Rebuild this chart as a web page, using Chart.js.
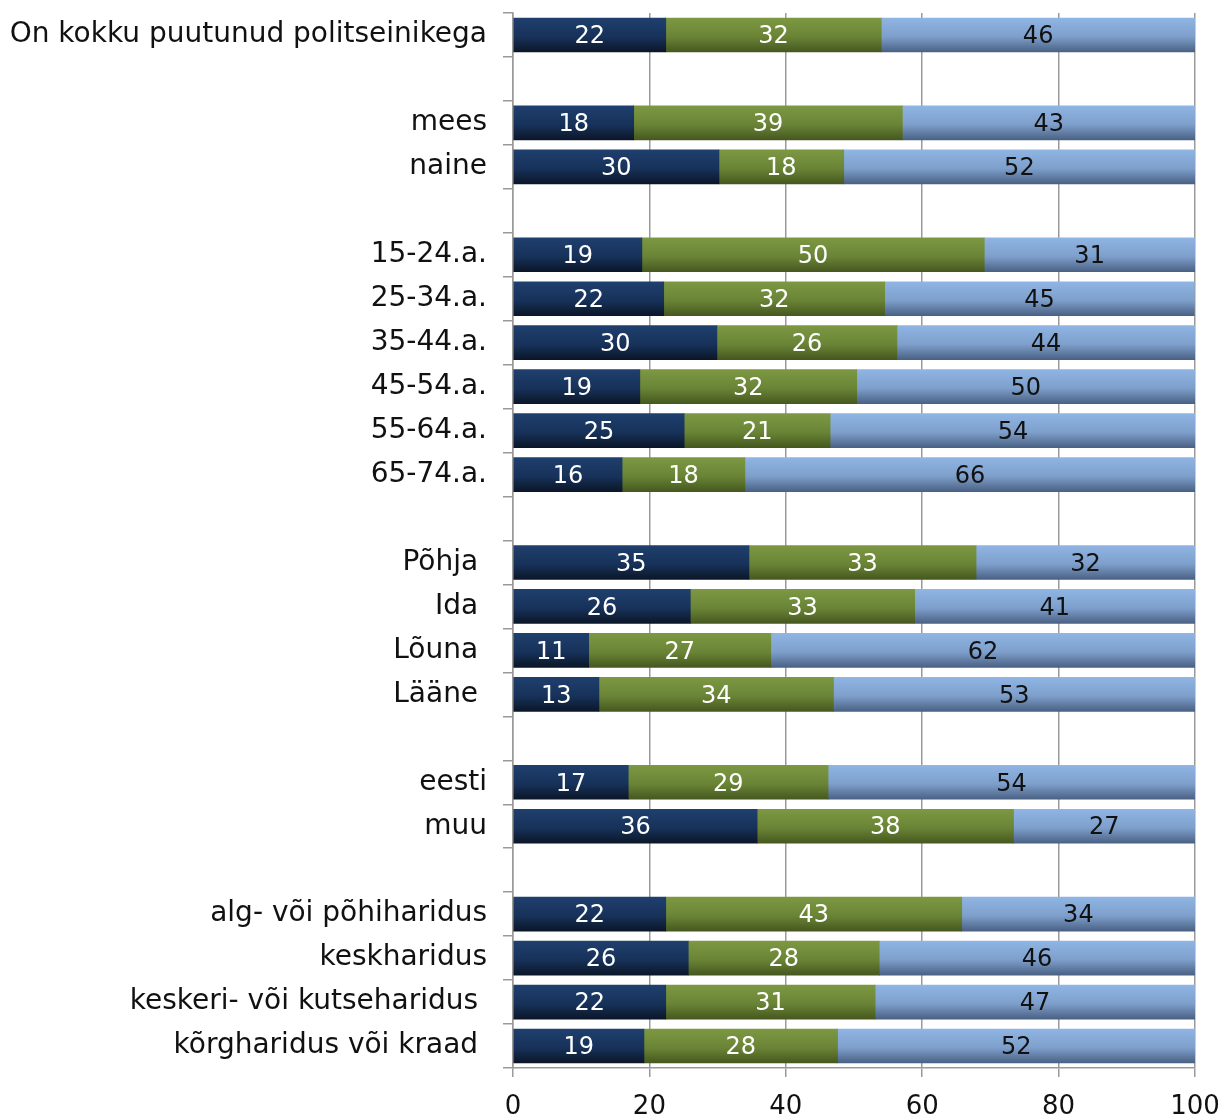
<!DOCTYPE html>
<html>
<head>
<meta charset="utf-8">
<script src="https://cdn.jsdelivr.net/npm/chart.js@4/dist/chart.umd.min.js"></script>
<style>
  html, body { margin: 0; padding: 0; background: #fff; }
  #wrap { width: 1224px; height: 1117px; }
</style>
</head>
<body>
<div id="wrap"><canvas id="canvas1" width="1224" height="1117"></canvas></div>
<script>
// categories (empty strings are the gaps between groups)
var categories = [
  'On kokku puutunud politseinikega', '',
  'mees', 'naine', '',
  '15-24.a.', '25-34.a.', '35-44.a.', '45-54.a.', '55-64.a.', '65-74.a.', '',
  'Põhja ', 'Ida ', 'Lõuna ', 'Lääne ', '',
  'eesti', 'muu', '',
  'alg- või põhiharidus', 'keskharidus', 'keskeri- või kutseharidus ', 'kõrgharidus või kraad '
];
var series1 = [22.4, null, 17.7, 30.2, null, 18.9, 22.1, 29.9, 18.6, 25.1, 16.0, null, 34.6, 26.0, 11.1, 12.6, null, 16.9, 35.8, null, 22.4, 25.7, 22.4, 19.2];
var series2 = [31.6, null, 39.4, 18.3, null, 50.2, 32.4, 26.4, 31.8, 21.4, 18.0, null, 33.3, 32.9, 26.7, 34.4, null, 29.3, 37.6, null, 43.4, 28.0, 30.7, 28.4];
var series3 = [46.0, null, 42.9, 51.5, null, 30.9, 45.4, 43.7, 49.6, 53.6, 66.0, null, 32.1, 41.1, 62.2, 53.0, null, 53.8, 26.6, null, 34.2, 46.3, 46.9, 52.4];
var xTicks = [0, 20, 40, 60, 80, 100];

var FONT = "'DejaVu Sans', Verdana, sans-serif";
var BAR_H = 34;

function barGradient(top, mid, bottom) {
  return function(ctx) {
    var chart = ctx.chart;
    var y = chart.scales && chart.scales.y;
    if (!y || ctx.dataIndex === undefined) return top;
    var cy = y.getPixelForValue(ctx.dataIndex);
    if (!isFinite(cy)) return top;
    var g = chart.ctx.createLinearGradient(0, cy - BAR_H / 2, 0, cy + BAR_H / 2);
    g.addColorStop(0, top);
    g.addColorStop(0.55, mid);
    g.addColorStop(1, bottom);
    return g;
  };
}

var labelPlugin = {
  id: 'barLabels',
  afterDatasetsDraw: function(chart) {
    var ctx = chart.ctx;
    var colors = ['#ffffff', '#ffffff', '#111111'];
    ctx.save();
    ctx.font = '24px ' + FONT;
    ctx.textAlign = 'center';
    ctx.textBaseline = 'middle';
    chart.data.datasets.forEach(function(ds, di) {
      var meta = chart.getDatasetMeta(di);
      meta.data.forEach(function(bar, i) {
        var v = ds.data[i];
        if (v === null || v === undefined) return;
        ctx.fillStyle = colors[di];
        ctx.fillText(Math.round(v), (bar.x + bar.base) / 2, bar.y + 2);
      });
    });
    ctx.restore();
  }
};

new Chart(document.getElementById('canvas1').getContext('2d'), {
  type: 'bar',
  data: {
    labels: categories,
    datasets: [
      { data: series1, backgroundColor: barGradient('#1f3f6d', '#17325a', '#0b1628') },
      { data: series2, backgroundColor: barGradient('#7c9842', '#6a8436', '#46581f') },
      { data: series3, backgroundColor: barGradient('#8fb5e4', '#7e9fcb', '#4a6184') }
    ]
  },
  options: {
    indexAxis: 'y',
    responsive: false,
    animation: false,
    layout: { padding: { top: 13, right: 29, bottom: 0, left: 0 } },
    datasets: { bar: { barThickness: BAR_H, borderWidth: 0 } },
    plugins: { legend: { display: false }, tooltip: { enabled: false } },
    scales: {
      x: {
        stacked: true,
        min: 0, max: 100,
        afterBuildTicks: function(scale) {
          scale.ticks = xTicks.map(function(v) { return { value: v }; });
        },
        afterFit: function(scale) { scale.height = 49; scale.paddingLeft = 0; scale.paddingRight = 0; },
        grid: { color: '#9a9a9a', lineWidth: 1.5, tickLength: 9 },
        border: { display: true, color: '#9a9a9a', width: 1.5 },
        ticks: { color: '#111', font: { family: FONT, size: 26 }, padding: 15, maxRotation: 0 }
      },
      y: {
        stacked: true,
        afterFit: function(scale) { scale.width = 513; scale.paddingTop = 0; scale.paddingBottom = 0; },
        grid: { drawOnChartArea: false, offset: true, color: '#9a9a9a', lineWidth: 1.5, tickLength: 10 },
        border: { display: true, color: '#9a9a9a', width: 1.5 },
        ticks: { color: '#111', font: { family: FONT, size: 28 }, padding: 16, autoSkip: false }
      }
    }
  },
  plugins: [labelPlugin]
});
</script>
</body>
</html>
